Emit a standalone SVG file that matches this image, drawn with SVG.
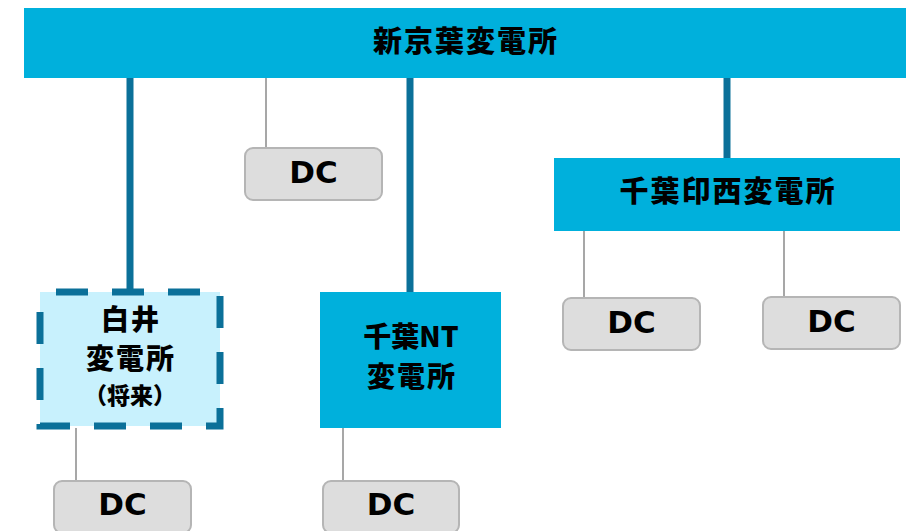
<svg xmlns="http://www.w3.org/2000/svg" width="915" height="531" viewBox="0 0 915 531">
<style>
.main{fill:#00B0DC}
.thick{stroke:#0B7099;stroke-width:7;fill:none}
.thin{stroke:#8A8A8A;stroke-width:1.5;fill:none}
.dc rect{fill:#DDDDDD;stroke:#B5B5B5;stroke-width:2}
.dc text{font-family:"DejaVu Sans","Verdana",sans-serif;font-weight:bold;font-size:31px;fill:#000;text-anchor:middle;dominant-baseline:central}
.jp{font-family:"Noto Sans CJK JP","Noto Sans",sans-serif;font-weight:900;fill:#000;text-anchor:middle;dominant-baseline:central;letter-spacing:2px}
</style>
<rect width="915" height="531" fill="#FFFFFF"/>
<g id="connectors">
<line class="thick" x1="130" y1="78" x2="130" y2="292"/>
<line class="thin" x1="266" y1="78" x2="266" y2="148"/>
<line class="thick" x1="410" y1="78" x2="410" y2="292"/>
<line class="thick" x1="727" y1="78" x2="727" y2="158"/>
<line class="thin" x1="584" y1="231" x2="584" y2="298"/>
<line class="thin" x1="784" y1="231" x2="784" y2="297"/>
<line class="thin" x1="76" y1="428" x2="76" y2="481"/>
<line class="thin" x1="343" y1="428" x2="343" y2="481"/>
</g>
<g id="shinkeiyo">
<rect class="main" x="24" y="8" width="882" height="70"/>
<text class="jp" x="466" y="39" font-size="29">新京葉変電所</text>
</g>
<g id="inzai">
<rect class="main" x="554" y="158" width="346" height="73"/>
<text class="jp" x="728" y="189" font-size="29">千葉印西変電所</text>
</g>
<g id="shiroi">
<rect x="40" y="292" width="180" height="134" fill="#C8F1FD" stroke="#0B7099" stroke-width="7" stroke-dasharray="32 24" stroke-dashoffset="40"/>
<text class="jp" x="131" y="318" font-size="28">白井</text>
<text class="jp" x="131" y="357" font-size="28">変電所</text>
<text class="jp" x="130" y="394" font-size="23" style="letter-spacing:0px">（将来）</text>
</g>
<g id="chibant">
<rect class="main" x="320" y="292" width="181" height="136"/>
<text class="jp" x="411" y="335" font-size="28" style="letter-spacing:0px">千葉NT</text>
<text class="jp" x="412" y="375" font-size="28">変電所</text>
</g>
<g id="dc1" class="dc">
<rect x="245" y="148" width="137" height="52" rx="8"/>
<text x="313.5" y="172">DC</text>
</g>
<g id="dc2" class="dc">
<rect x="563" y="298" width="137" height="52" rx="8"/>
<text x="631.5" y="322">DC</text>
</g>
<g id="dc3" class="dc">
<rect x="763" y="297" width="137" height="52" rx="8"/>
<text x="831.5" y="321">DC</text>
</g>
<g id="dc4" class="dc">
<rect x="54" y="481" width="137" height="52" rx="8"/>
<text x="122.5" y="504">DC</text>
</g>
<g id="dc5" class="dc">
<rect x="323" y="481" width="136" height="52" rx="8"/>
<text x="391" y="504">DC</text>
</g>
</svg>
